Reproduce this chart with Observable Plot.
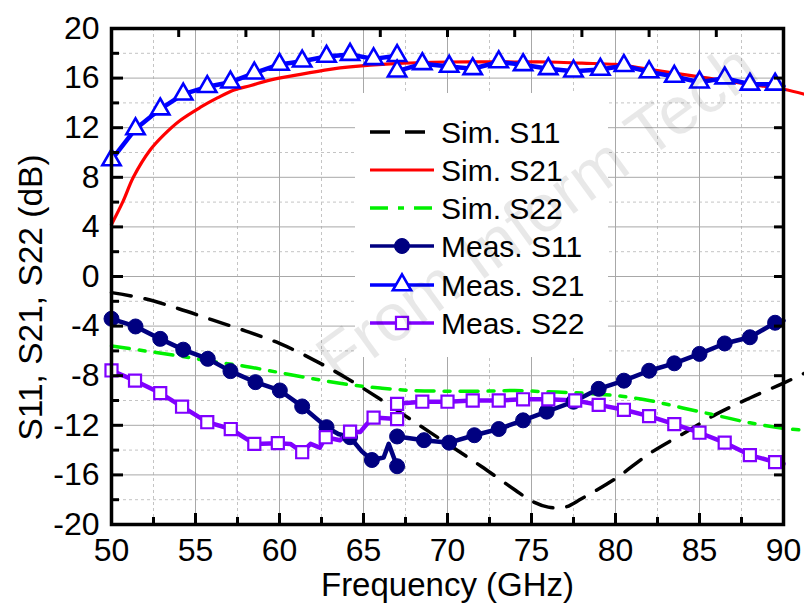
<!DOCTYPE html>
<html>
<head>
<meta charset="utf-8">
<script src="https://cdn.jsdelivr.net/npm/d3@7"></script>
<script src="https://cdn.jsdelivr.net/npm/@observablehq/plot@0.6"></script>
<style>
  html, body { margin: 0; padding: 0; background: #fff; }
  #chart { width: 804px; height: 603px; }
</style>
</head>
<body>
<div id="chart"></div>
<script>
// ---------- data ----------
const xTicksMajor = [50, 55, 60, 65, 70, 75, 80, 85, 90];
const xTicksMinor = [52.5, 57.5, 62.5, 67.5, 72.5, 77.5, 82.5, 87.5];
const xTicksTop = [50, 54, 58, 62, 66, 70, 74, 78, 82, 86, 90];
const yTicksMajor = [-20, -16, -12, -8, -4, 0, 4, 8, 12, 16, 20];
const yTicksMinor = [-18, -14, -10, -6, -2, 2, 6, 10, 14, 18];

const seriesNames = ["Sim. S11", "Sim. S21", "Sim. S22", "Meas. S11", "Meas. S21", "Meas. S22"];
const xTitle = "Frequency (GHz)";
const yTitle = "S11, S21, S22 (dB)";
const watermark = "From Inform Tech";

// simulated
const simS11F = [50, 52, 54, 56, 58, 60, 62, 64, 66, 68, 70, 72, 74, 75, 76, 77, 78, 80, 82, 84, 86, 88, 90, 91.25];
const simS11V = [-1.3, -1.8, -2.6, -3.5, -4.4, -5.4, -6.7, -8.2, -9.9, -11.7, -13.5, -15.3, -17.2, -18.1, -18.6, -18.6, -17.9, -16.3, -14.3, -12.7, -11.1, -9.8, -8.6, -7.8];

const simS21F = [50, 50.7, 51.3, 52.3, 53.1, 54.1, 55.3, 56.3, 57.3, 58.3, 59.3, 61.25, 63, 64.2, 66.6, 70, 74, 76, 78, 80, 82, 84, 86, 88, 90, 91.25];
const simS21V = [4.2, 6.1, 8.0, 10.2, 11.4, 12.6, 13.65, 14.4, 15.05, 15.4, 15.8, 16.3, 16.7, 16.9, 17.15, 17.3, 17.3, 17.3, 17.2, 17.1, 16.7, 16.3, 15.9, 15.5, 15.1, 14.7];

const simS22F = [50, 52, 54, 56, 58, 60, 62, 64, 66, 68, 70, 72, 74, 76, 78, 80, 82, 84, 86, 88, 90, 91.25];
const simS22V = [-5.6, -6.0, -6.4, -6.85, -7.25, -7.75, -8.25, -8.7, -9.0, -9.2, -9.25, -9.25, -9.2, -9.3, -9.4, -9.6, -10.0, -10.6, -11.2, -11.8, -12.25, -12.4];

// measured, band 1 (50-67 GHz) and band 2 (67-90 GHz): marker points (+ extra line points)
const measS11aF = [50.0, 51.43, 52.9, 54.27, 55.73, 57.08, 58.57, 60.02, 61.35, 62.8, 64.2, 65.5, 67.0];
const measS11aV = [-3.41, -4.03, -5.03, -5.9, -6.64, -7.63, -8.52, -9.19, -10.48, -12.15, -12.96, -14.8, -15.3];
const measS11aExtraF = [63.5, 64.9, 66.2, 66.5];
const measS11aExtraV = [-12.7, -14.1, -14.6, -13.5];
const measS11bF = [67.0, 68.6, 70.1, 71.6, 73.05, 74.5, 75.9, 77.5, 79.0, 80.5, 82.0, 83.5, 85.0, 86.5, 88.0, 89.5];
const measS11bV = [-12.9, -13.2, -13.4, -12.8, -12.3, -11.6, -10.9, -10.1, -9.06, -8.4, -7.6, -7.0, -6.24, -5.4, -4.9, -3.73];
const measS11bExtraF = [90];
const measS11bExtraV = [-3.55];

const measS21aF = [50.0, 51.43, 52.9, 54.27, 55.7, 57.08, 58.5, 60.0, 61.35, 62.8, 64.2, 65.6, 67.0];
const measS21aV = [9.4, 11.9, 13.5, 14.7, 15.3, 15.67, 16.4, 17.1, 17.36, 17.74, 17.9, 17.55, 17.8];
const measS21bF = [67.0, 68.5, 70.1, 71.5, 73.05, 74.5, 76.0, 77.5, 79.1, 80.5, 82.0, 83.5, 85.0, 86.5, 88.0, 89.5];
const measS21bV = [16.56, 17.15, 16.94, 16.75, 17.3, 17.07, 16.75, 16.56, 16.7, 17.0, 16.5, 16.13, 15.67, 16.0, 15.5, 15.5];
const measS21bExtraF = [90];
const measS21bExtraV = [15.35];

const measS22aF = [50.0, 51.4, 52.9, 54.2, 55.7, 57.1, 58.5, 59.9, 61.35, 62.75, 64.2, 65.6, 67.0];
const measS22aV = [-7.58, -8.4, -9.4, -10.5, -11.75, -12.3, -13.5, -13.44, -14.17, -12.96, -12.52, -11.38, -11.5];
const measS22aExtraF = [60.65, 61.85, 62.4, 63.6, 64.8, 65.2];
const measS22aExtraV = [-13.5, -13.5, -13.8, -13.2, -12.55, -11.9];
const measS22bF = [67.0, 68.5, 70.0, 71.5, 73.05, 74.5, 76.0, 77.6, 79.0, 80.5, 82.0, 83.5, 85.0, 86.5, 88.0, 89.5];
const measS22bV = [-10.27, -10.1, -10.1, -10.0, -10.0, -9.9, -9.9, -10.0, -10.35, -10.75, -11.26, -11.9, -12.6, -13.4, -14.4, -14.97];
const measS22bExtraF = [90];
const measS22bExtraV = [-15.1];

// ---------- helpers ----------
const pts = (F, V) => F.map((f, i) => ({f, v: V[i]}));
const linePts = (F, V, EF = [], EV = []) => [...pts(F, V), ...pts(EF, EV)].sort((a, b) => a.f - b.f);

const C = {
  s11: "#000000", s21: "#ff0000", s22: "#00f000",
  m11: "#000080", m21: "#0000ff", m22: "#8000ff"
};

const W = 804, H = 603;
const mT = 28, mB = 79, mL = 111, mR = 21;
const iw = W - mL - mR, ih = H - mT - mB;
const FONT = "'Liberation Sans', Arial, Helvetica, sans-serif";

const plot = Plot.plot({
  width: W, height: H,
  marginTop: mT, marginBottom: mB, marginLeft: mL, marginRight: mR,
  style: {fontFamily: FONT, background: "#fff", color: "#000", overflow: "visible"},
  x: {domain: [50, 90], label: null},
  y: {domain: [-20, 20], label: null},
  marks: [
    // grid
    Plot.ruleX(xTicksMinor, {stroke: "#c4c4c4", strokeWidth: 1, strokeDasharray: "3,3"}),
    Plot.ruleY(yTicksMinor, {stroke: "#c4c4c4", strokeWidth: 1, strokeDasharray: "3,3"}),
    Plot.ruleX(xTicksMajor, {stroke: "#a8a8a8", strokeWidth: 1}),
    Plot.ruleY(yTicksMajor, {stroke: "#a8a8a8", strokeWidth: 1}),
    // simulated
    Plot.line(pts(simS11F, simS11V), {x: "f", y: "v", stroke: C.s11, strokeWidth: 3.5, strokeDasharray: "20,14", curve: "catmull-rom"}),
    Plot.line(pts(simS21F, simS21V), {x: "f", y: "v", stroke: C.s21, strokeWidth: 3.2, curve: "catmull-rom"}),
    Plot.line(pts(simS22F, simS22V), {x: "f", y: "v", stroke: C.s22, strokeWidth: 3.5, strokeDasharray: "18,10,6,10", curve: "catmull-rom"}),
    // measured lines
    Plot.line(linePts(measS11aF, measS11aV, measS11aExtraF, measS11aExtraV), {x: "f", y: "v", stroke: C.m11, strokeWidth: 4.5}),
    Plot.line(linePts(measS11bF, measS11bV, measS11bExtraF, measS11bExtraV), {x: "f", y: "v", stroke: C.m11, strokeWidth: 4.5}),
    Plot.line(linePts(measS22aF, measS22aV, measS22aExtraF, measS22aExtraV), {x: "f", y: "v", stroke: C.m22, strokeWidth: 4.5}),
    Plot.line(linePts(measS22bF, measS22bV, measS22bExtraF, measS22bExtraV), {x: "f", y: "v", stroke: C.m22, strokeWidth: 4.5}),
    Plot.line(pts(measS21aF, measS21aV), {x: "f", y: "v", stroke: C.m21, strokeWidth: 4.5}),
    Plot.line(linePts(measS21bF, measS21bV, measS21bExtraF, measS21bExtraV), {x: "f", y: "v", stroke: C.m21, strokeWidth: 4.5}),
    // markers
    Plot.dot([...pts(measS11aF, measS11aV), ...pts(measS11bF, measS11bV)], {x: "f", y: "v", r: 7.5, fill: C.m11, stroke: C.m11, strokeWidth: 1, symbol: "circle"}),
    Plot.dot([...pts(measS22aF, measS22aV), ...pts(measS22bF, measS22bV)], {x: "f", y: "v", r: 6.8, fill: "#fff", stroke: C.m22, strokeWidth: 2.2, symbol: "square"}),
    Plot.dot([...pts(measS21aF, measS21aV), ...pts(measS21bF, measS21bV)], {x: "f", y: "v", r: 6.8, fill: "#fff", stroke: C.m21, strokeWidth: 2.6, symbol: "triangle"}),
    // ticks (inward)
    Plot.ruleX(xTicksMajor, {insetTop: ih - 11, stroke: "#000", strokeWidth: 3}),
    Plot.ruleX(xTicksMinor, {insetTop: ih - 7, stroke: "#000", strokeWidth: 3}),
    Plot.ruleX(xTicksTop, {insetBottom: ih - 9, stroke: "#000", strokeWidth: 3}),
    Plot.ruleY(yTicksMajor, {insetRight: iw - 12, stroke: "#000", strokeWidth: 3}),
    Plot.ruleY(yTicksMinor, {insetRight: iw - 8, stroke: "#000", strokeWidth: 3}),
    Plot.ruleY(yTicksMajor, {insetLeft: iw - 9, stroke: "#000", strokeWidth: 3}),
    Plot.frame({stroke: "#000", strokeWidth: 3.5}),
    // tick labels and titles
    Plot.axisX(xTicksMajor, {anchor: "bottom", tickSize: 0, tickPadding: 14, fontSize: 32, label: null, fill: "#000", tickFormat: d => String(d)}),
    Plot.axisY(yTicksMajor, {anchor: "left", tickSize: 0, tickPadding: 12, fontSize: 32, label: null, fill: "#000", tickFormat: d => String(d)}),
    Plot.text([xTitle], {frameAnchor: "bottom", textAnchor: "middle", dy: 61, lineAnchor: "middle", fontSize: 33, fill: "#000"}),
    Plot.text([yTitle], {frameAnchor: "left", textAnchor: "middle", dx: -80, dy: 21, rotate: -90, lineAnchor: "middle", fontSize: 33.5, fill: "#000"})
  ]
});

// ---------- legend ----------
const svg = d3.select(plot);
const lg = svg.append("g").attr("class", "legend").attr("text-anchor", "start");
lg.append("rect").attr("x", 355).attr("y", 93).attr("width", 253).attr("height", 264).attr("fill", "#fff");
const rowY = [132, 170, 208, 246, 285, 323];
const styles = [
  {stroke: C.s11, dash: "20,15", w: 3.5},
  {stroke: C.s21, dash: null, w: 3.2},
  {stroke: C.s22, dash: "18,10,6,10", w: 3.5},
  {stroke: C.m11, dash: null, w: 3.5, sym: d3.symbolCircle, size: Math.PI * 7.5 * 7.5, fill: C.m11, sw: 1},
  {stroke: C.m21, dash: null, w: 3.5, sym: d3.symbolTriangle, size: Math.PI * 6.8 * 6.8, fill: "#fff", sw: 2.6},
  {stroke: C.m22, dash: null, w: 3.5, sym: d3.symbolSquare, size: Math.PI * 6.8 * 6.8, fill: "#fff", sw: 2.2}
];
seriesNames.forEach((name, i) => {
  const s = styles[i], y = rowY[i];
  const g = lg.append("g");
  g.append("line").attr("x1", 370).attr("x2", 434).attr("y1", y).attr("y2", y)
    .attr("stroke", s.stroke).attr("stroke-width", s.w).attr("stroke-dasharray", s.dash);
  if (s.sym) {
    g.append("path").attr("d", d3.symbol(s.sym, s.size)()).attr("transform", `translate(402,${y})`)
      .attr("fill", s.fill).attr("stroke", s.stroke).attr("stroke-width", s.sw);
  }
  g.append("text").attr("x", 441).attr("y", y).attr("dy", "0.36em").attr("text-anchor", "start")
    .attr("font-size", 30).attr("font-family", FONT).attr("fill", "#000").text(name);
});

// faint diagonal watermark seen in the reference (kept inside the picture)
svg.append("text").attr("transform", "translate(338,385) rotate(-36)")
  .attr("text-anchor", "start").attr("font-size", 67).attr("font-family", FONT)
  .attr("fill", "#000").attr("fill-opacity", 0.09).text(watermark);

document.getElementById("chart").appendChild(plot);
</script>
</body>
</html>
